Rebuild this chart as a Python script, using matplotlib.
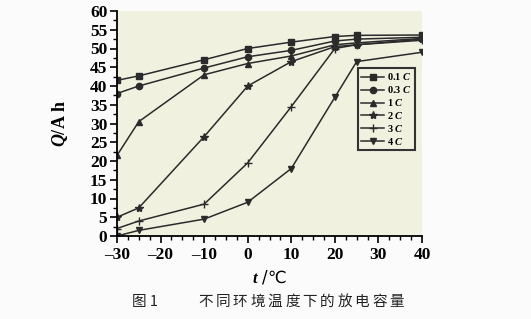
import matplotlib
matplotlib.use("Agg")
import matplotlib.pyplot as plt
from matplotlib.ticker import MultipleLocator

plt.rcParams['mathtext.fontset'] = 'custom'
plt.rcParams['mathtext.rm'] = 'Liberation Serif:bold'
plt.rcParams['mathtext.it'] = 'Liberation Serif:italic:bold'
plt.rcParams['mathtext.bf'] = 'Liberation Serif:bold'

# temperatures (deg C)
temps = [-30, -25, -10, 0, 10, 20, 25, 40]

# discharge capacity (Ah) per rate
q_01c = [41.5, 42.7, 47.0, 50.0, 51.7, 53.2, 53.5, 53.6]
q_03c = [38.0, 40.0, 44.8, 47.8, 49.5, 52.0, 52.5, 53.0]
q_1c = [21.5, 30.5, 43.0, 46.0, 48.0, 51.0, 51.5, 52.7]
q_2c = [5.0, 7.5, 26.5, 40.0, 46.5, 50.5, 51.0, 52.5]
q_3c = [2.0, 4.0, 8.5, 19.5, 34.5, 50.0, 51.0, 52.2]
q_4c = [0.0, 1.5, 4.5, 9.0, 18.0, 37.0, 46.5, 49.0]

labels = ['0.1', '0.3', '1', '2', '3', '4']
markers = ['s', 'o', '^', '*', '+', 'v']
series = [q_01c, q_03c, q_1c, q_2c, q_3c, q_4c]

caption = '不同环境温度下的放电容量'

fig = plt.figure(figsize=(5.31, 3.19), dpi=100)
fig.patch.set_facecolor('#fbfbfb')
ax = fig.add_axes([117/531, 1-236/319, 305/531, 225/319])
ax.set_facecolor('#f1f1e0')

for lab, mk, q in zip(labels, markers, series):
    ms = 6 if mk in ('*', '+') else 4.5
    ax.plot(temps, q, color='#2b2b2b', lw=1.1, marker=mk, ms=ms,
            mew=1.0, label=lab + r' $\mathit{C}$')

ax.set_xlim(-30, 40)
ax.set_ylim(0, 60)
ax.xaxis.set_major_locator(MultipleLocator(10))
ax.xaxis.set_minor_locator(MultipleLocator(2.5))
ax.yaxis.set_major_locator(MultipleLocator(5))
ax.yaxis.set_minor_locator(MultipleLocator(2.5))
ax.set_xticks(range(-30, 41, 10))
ax.set_xticklabels(['\u201330', '\u201320', '\u201310', '0', '10', '20', '30', '40'])

for s in ['top', 'right']:
    ax.spines[s].set_visible(False)
for s in ['left', 'bottom']:
    ax.spines[s].set_linewidth(1.3)
ax.tick_params(which='major', length=5, width=1.2, direction='out')
ax.tick_params(which='minor', length=3, width=1.0, direction='out')
for t in ax.get_xticklabels() + ax.get_yticklabels():
    t.set_fontfamily('Liberation Serif')
    t.set_fontweight('bold')
    t.set_fontsize(12.5)
ax.tick_params(axis='y', pad=2)
ax.tick_params(axis='x', pad=3)

ax.set_ylabel(r'$\mathit{Q}$/A h', fontfamily='Liberation Serif',
              fontweight='bold', fontsize=13)
ax.yaxis.set_label_coords(-0.155, 0.5)
ax.set_xlabel(r'$\mathit{t}$ /℃', fontfamily='DejaVu Sans', fontsize=12)
ax.xaxis.set_label_coords(0.5, -0.145)

leg = ax.legend(loc='upper left', bbox_to_anchor=(0.79, 0.745),
                prop={'family': 'Liberation Serif', 'weight': 'bold', 'size': 7.5},
                frameon=True, fancybox=False, edgecolor='#333333',
                handlelength=2.2, handletextpad=0.3, labelspacing=0.18,
                borderpad=0.3, borderaxespad=0)
leg.get_frame().set_linewidth(1.5)
leg.get_frame().set_facecolor('#f1f1e0')
leg.get_frame().set_alpha(1)

cy = 1 - 302/319
fig.text(132/531, cy, '图 1', fontfamily='Noto Sans CJK SC',
         fontsize=10.5, va='center', ha='left', color='#222222')
for i, ch in enumerate(caption):
    fig.text((198 + i*17.4)/531, cy, ch, fontfamily='Noto Sans CJK SC',
             fontsize=10.5, va='center', ha='left', color='#222222')

fig.savefig('out.png', dpi=100, facecolor=fig.get_facecolor())
